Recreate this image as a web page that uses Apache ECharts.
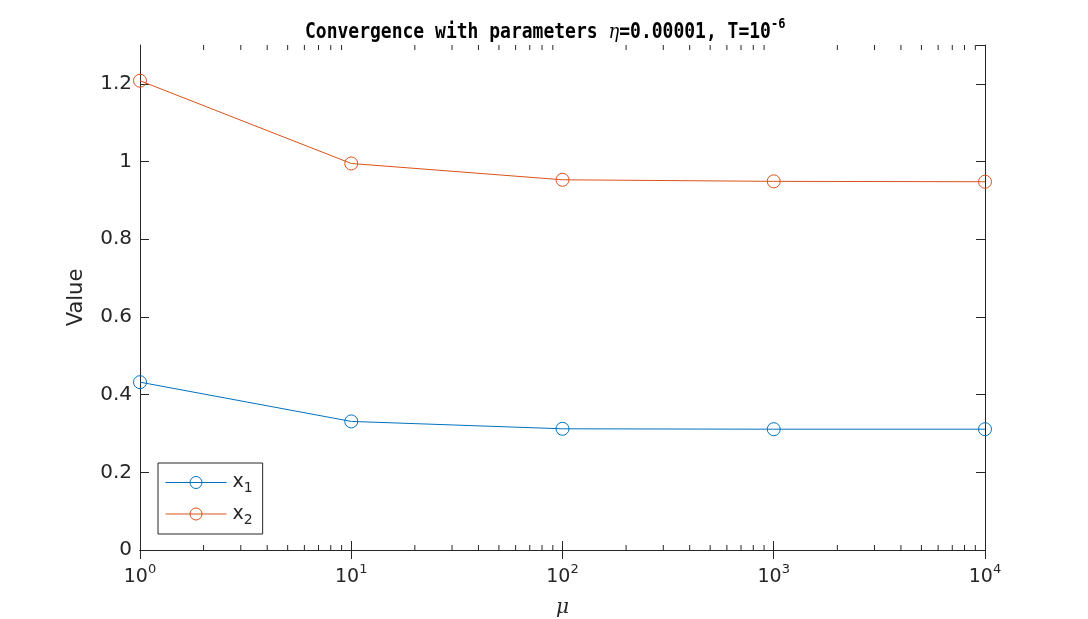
<!DOCTYPE html>
<html>
<head>
<meta charset="utf-8">
<script src="https://cdn.jsdelivr.net/npm/echarts@6/dist/echarts.min.js"></script>
<style>
  html, body { margin: 0; padding: 0; background: #fff; }
  #chart { width: 1088px; height: 619px; }
</style>
</head>
<body>
<div id="chart"></div>
<script>
// mu values (log axis) and the two converged components
const mu = [1, 10, 100, 1000, 10000];
const x1 = [0.432, 0.331, 0.312, 0.311, 0.311];
const x2 = [1.208, 0.995, 0.953, 0.949, 0.948];
const yTicks = [0, 0.2, 0.4, 0.6, 0.8, 1, 1.2];

const axisColor = '#262626';
const font = 'DejaVu Sans';

// minor ticks of the log axis (2..9 per decade)
const minorTicks = [];
for (let d = 1; d < 10000; d *= 10) {
  for (let k = 2; k <= 9; k++) minorTicks.push([k * d, 0]);
}

const pairs = (xs, ys) => xs.map((v, i) => [v, ys[i]]);

const chartDom = document.getElementById('chart');
const myChart = echarts.init(chartDom);

const supStyle = { fontFamily: font, fontSize: 13, color: axisColor, padding: [0, 0, 15, 0] };

myChart.setOption({
  animation: false,
  graphic: [
    {
      type: 'text',
      left: 305,
      top: 18,
      scaleY: 1.15,
      style: {
        text: '{t|Convergence with parameters }{eta|η}{t|=0.00001, T=10}{sup|-6}',
        rich: {
          t: { fontFamily: 'DejaVu Sans Mono', fontWeight: 'bold', fontSize: 18, fill: '#000' },
          eta: { fontFamily: 'DejaVu Serif', fontStyle: 'italic', fontSize: 18, fill: '#000' },
          sup: { fontFamily: 'DejaVu Sans Mono', fontWeight: 'bold', fontSize: 12, fill: '#000', padding: [0, 0, 14, 0] }
        }
      }
    }
  ],
  legend: {
    data: ['x1', 'x2'],
    orient: 'vertical',
    left: 158,
    top: 463,
    padding: [10, 10, 7, 7],
    itemGap: 9,
    itemWidth: 61,
    itemHeight: 15,
    borderColor: axisColor,
    borderWidth: 1,
    borderRadius: 0,
    backgroundColor: '#fff',
    lineStyle: { width: 1 },
    itemStyle: { borderWidth: 1 },
    formatter: name => 'x{sub|' + name.slice(1) + '}',
    textStyle: {
      fontFamily: font,
      fontSize: 19,
      color: axisColor,
      padding: [0, 0, 0, 1],
      rich: {
        sub: { fontFamily: font, fontSize: 14, color: axisColor, padding: [12, 0, 0, 0] }
      }
    }
  },
  grid: { left: 140, right: 103, top: 45, bottom: 69, outerBoundsMode: 'none' },
  xAxis: [
    {
      type: 'log',
      logBase: 10,
      min: 1,
      max: 10000,
      name: 'μ',
      nameLocation: 'middle',
      nameGap: 48,
      nameTextStyle: { fontFamily: 'DejaVu Serif', fontStyle: 'italic', fontSize: 20, color: axisColor },
      axisLine: { lineStyle: { color: axisColor, width: 1 } },
      axisTick: { inside: true, length: 9, lineStyle: { color: axisColor } },
      splitLine: { show: false },
      axisLabel: {
        margin: 13,
        formatter: v => '10{sup|' + Math.round(Math.log10(v)) + '}',
        fontFamily: font,
        fontSize: 19,
        color: axisColor,
        rich: { sup: supStyle }
      }
    },
    {
      type: 'log',
      logBase: 10,
      min: 1,
      max: 10000,
      position: 'top',
      axisLine: { lineStyle: { color: axisColor, width: 1 } },
      axisTick: { inside: true, length: 9, lineStyle: { color: axisColor } },
      axisLabel: { show: false },
      splitLine: { show: false }
    }
  ],
  yAxis: [
    {
      type: 'value',
      min: 0,
      max: 1.3,
      interval: 0.2,
      name: 'Value',
      nameLocation: 'middle',
      nameGap: 53,
      nameTextStyle: { fontFamily: font, fontSize: 21, color: axisColor },
      axisLine: { show: true, lineStyle: { color: axisColor, width: 1 } },
      axisTick: { show: true, inside: true, length: 9, lineStyle: { color: axisColor } },
      splitLine: { show: false },
      axisLabel: {
        margin: 8,
        showMaxLabel: false,
        formatter: v => (yTicks.some(t => Math.abs(t - v) < 1e-9) ? String(+v.toFixed(1)) : ''),
        fontFamily: font,
        fontSize: 20,
        color: axisColor
      }
    },
    {
      type: 'value',
      min: 0,
      max: 1.3,
      interval: 0.2,
      position: 'right',
      axisLine: { show: true, lineStyle: { color: axisColor, width: 1 } },
      axisTick: { show: true, inside: true, length: 9, lineStyle: { color: axisColor } },
      axisLabel: { show: false },
      splitLine: { show: false }
    }
  ],
  series: [
    {
      name: 'x1',
      type: 'line',
      data: pairs(mu, x1),
      symbol: 'circle',
      symbolSize: 13,
      clip: false,
      lineStyle: { color: '#0072BD', width: 1 },
      itemStyle: { color: 'rgba(0,0,0,0)', borderColor: '#0072BD', borderWidth: 1 }
    },
    {
      name: 'x2',
      type: 'line',
      data: pairs(mu, x2),
      symbol: 'circle',
      symbolSize: 13,
      clip: false,
      lineStyle: { color: '#D95319', width: 1 },
      itemStyle: { color: 'rgba(0,0,0,0)', borderColor: '#D95319', borderWidth: 1 }
    },
    {
      name: 'minor',
      type: 'custom',
      silent: true,
      data: minorTicks,
      renderItem: (params, api) => {
        const x = api.coord([api.value(0), 0])[0];
        const cs = params.coordSys;
        const bottom = cs.y + cs.height;
        const style = { stroke: axisColor, lineWidth: 1 };
        return {
          type: 'group',
          children: [
            { type: 'line', shape: { x1: x, y1: bottom, x2: x, y2: bottom - 5 }, style: style },
            { type: 'line', shape: { x1: x, y1: cs.y, x2: x, y2: cs.y + 5 }, style: style }
          ]
        };
      }
    }
  ]
});
</script>
</body>
</html>
